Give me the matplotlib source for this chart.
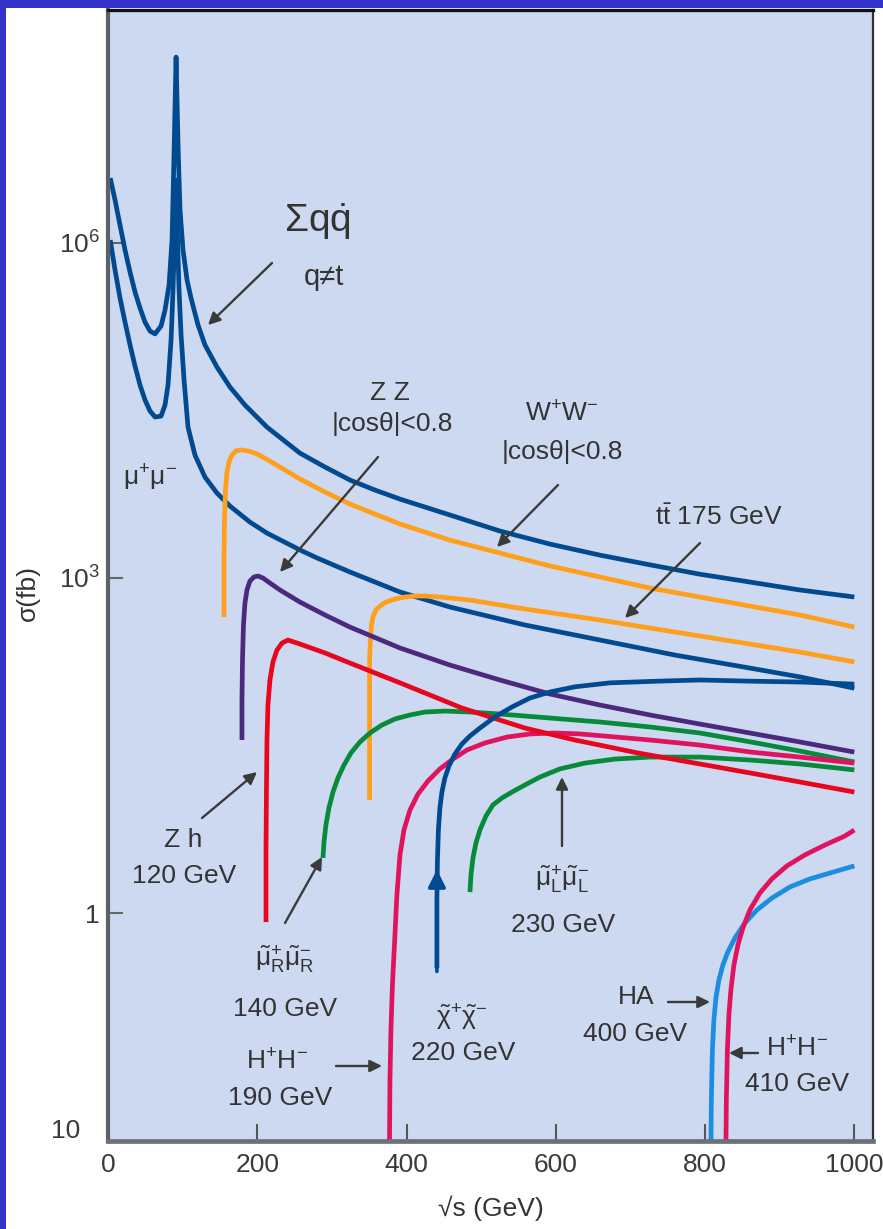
import matplotlib
matplotlib.use("Agg")
import matplotlib.pyplot as plt
from matplotlib.patches import Rectangle
from matplotlib.ticker import FixedLocator, FixedFormatter, NullLocator

# ---------------- data (sqrt(s) in GeV, cross sections in fb) ----------------
qq_x = [3, 9.4, 16.1, 22.8, 29.5, 36.2, 42.9, 49.6, 56.3, 63.0, 71.1, 76.4, 81.8,
        85.8, 88.3, 91.2, 94.0, 96.5, 100.5, 105.9, 111.2, 120.6, 129.9, 146.0,
        163.4, 183.5, 213.0, 257.2, 290.7, 324.2, 357.7, 391.2, 458.1, 525.1,
        592.1, 659.1, 726.1, 793.0, 860.0, 927.0, 1000]
qq_sigma = [3.80e6, 2.42e6, 1.44e6, 8.63e5, 5.48e5, 3.63e5, 2.61e5, 1.95e5, 1.62e5,
            1.53e5, 1.80e5, 2.50e5, 4.19e5, 1.06e6, 5.51e6, 4.6e7, 6.78e6, 1.97e6,
            8.63e5, 4.65e5, 3.21e5, 1.84e5, 1.22e5, 7.73e4, 5.12e4, 3.53e4, 2.24e4,
            1.31e4, 9.84e3, 7.52e3, 6.12e3, 5.08e3, 3.66e3, 2.63e3, 2.01e3, 1.60e3,
            1.31e3, 1.08e3, 919, 780, 675]

mumu_x = [3, 9.4, 16.1, 22.8, 29.5, 36.2, 42.9, 49.6, 56.3, 63.0, 71.1, 76.4, 80.4,
          84.5, 87.1, 89.1, 91.2, 93.2, 95.2, 97.9, 101.9, 107.2, 116.5, 129.9,
          146.0, 163.4, 190.2, 213.0, 257.2, 280.0, 324.2, 391.2, 458.1, 558.6,
          659.1, 759.5, 860.0, 927.0, 1000]
mumu_sigma = [1.06e6, 5.71e5, 3.21e5, 1.95e5, 1.22e5, 7.89e4, 5.33e4, 3.92e4, 3.12e4,
              2.76e4, 2.81e4, 3.53e4, 5.33e4, 1.35e5, 3.78e5, 1.06e6, 3.65e6, 1.06e6,
              3.78e5, 1.50e5, 5.91e4, 2.24e4, 1.26e4, 8.0e3, 5.75e3, 4.40e3, 3.16e3,
              2.52e3, 1.78e3, 1.51e3, 1.13e3, 748, 549, 379, 278, 204, 156, 130, 103]

ww_x = [155.4, 155.4, 156.1, 157.4, 159.4, 162.1, 166.1, 171.5, 178.2, 187.5, 199.6,
        217.0, 237.1, 257.2, 290.7, 324.2, 357.7, 391.2, 458.1, 525.1, 592.1, 659.1,
        726.1, 793.0, 860.0, 927.0, 1000]
ww_sigma = [447, 1.45e3, 3.30e3, 6.12e3, 8.87e3, 1.09e4, 1.26e4, 1.37e4, 1.40e4,
            1.37e4, 1.29e4, 1.11e4, 9.25e3, 7.68e3, 5.87e3, 4.59e3, 3.73e3, 3.04e3,
            2.18e3, 1.67e3, 1.28e3, 1.02e3, 812, 675, 560, 466, 363]

tt_x = [350.5, 350.5, 351.6, 353.0, 355.0, 359.0, 364.4, 372.4, 384.5, 397.9, 411.3,
        424.6, 444.7, 484.9, 558.6, 659.1, 759.5, 860.0, 927.0, 1000]
tt_sigma = [10.3, 184, 278, 379, 447, 516, 560, 608, 647, 675, 689, 689, 675, 634,
            527, 420, 328, 256, 217, 177]

zz_x = [179.5, 179.5, 180.2, 181.5, 183.5, 186.2, 190.2, 195.6, 201.0, 207.6, 217.0,
        230.4, 257.2, 290.7, 324.2, 391.2, 458.1, 525.1, 592.1, 659.1, 726.1, 793.0,
        860.0, 927.0, 1000]
zz_sigma = [35.4, 80.7, 184, 379, 596, 780, 938, 1.02e3, 1.04e3, 998, 900, 780, 608,
            466, 363, 236, 166, 122, 91.4, 72.8, 59.3, 49.2, 40.9, 34.0, 27.6]

zh_x = [211.7, 211.7, 212.3, 213.0, 214.3, 217.0, 221.0, 226.4, 233.1, 241.1, 257.2,
        290.7, 324.2, 357.7, 391.2, 431.4, 474.3, 525.1, 558.6, 625.6, 710.0, 793.0,
        861.3, 927.0, 1000]
zh_sigma = [0.830, 3.66, 12.6, 35.4, 72.8, 122, 177, 226, 261, 278, 256, 213, 173,
            141, 115, 89.5, 68.4, 53.4, 45.3, 35.4, 27.1, 21.6, 17.9, 14.9, 12.1]

smuR_x = [288.0, 289.4, 292.0, 296.0, 301.4, 308.1, 316.1, 325.5, 337.6, 351.0, 367.0,
          384.5, 404.6, 424.6, 451.4, 484.9, 525.1, 592.1, 659.1, 726.1, 793.0,
          861.3, 927.0, 1000]
smuR_sigma = [3.11, 4.32, 6.14, 8.71, 12.1, 16.2, 21.1, 27.1, 34.0, 40.9, 48.2, 54.6,
              59.3, 63.0, 64.3, 63.0, 60.5, 55.7, 51.3, 46.3, 40.9, 34.0, 28.2, 22.5]

smuL_x = [485.0, 486.3, 489.0, 493.0, 498.3, 506.4, 515.7, 527.8, 541.2, 558.6, 578.7,
          605.5, 639.0, 679.2, 726.1, 793.0, 861.3, 927.0, 1000]
smuL_sigma = [1.54, 2.19, 3.11, 4.24, 5.53, 7.39, 9.27, 10.7, 12.1, 14.0, 16.5, 19.5,
              22.0, 23.9, 24.9, 24.9, 23.4, 21.6, 19.1]

chi_x = [440.7, 440.7, 441.4, 442.7, 444.7, 447.4, 451.4, 456.8, 464.8, 474.2, 484.9,
         498.3, 518.4, 541.2, 565.3, 592.1, 625.6, 672.5, 735.4, 793.0, 861.3, 927.0,
         1000]
chi_sigma = [0.322, 1.31, 2.98, 5.53, 8.71, 12.1, 16.2, 20.7, 26.5, 32.6, 38.4, 45.3,
             56.9, 69.9, 84.1, 95.2, 106, 115, 119, 122, 119, 117, 112]

hpm190_x = [377.1, 377.8, 379.1, 381.1, 383.8, 387.1, 391.2, 396.5, 404.6, 415.3, 428.7,
            444.7, 462.2, 480.9, 505.0, 534.5, 565.3, 598.8, 632.3, 665.8, 726.1,
            793.0, 861.3, 927.0, 1000]
hpm190_sigma = [0.00755, 0.0320, 0.0897, 0.227, 0.517, 1.45, 3.31, 5.53, 8.36, 11.6,
                15.2, 19.5, 23.9, 28.8, 33.3, 37.6, 40.1, 40.9, 40.1, 38.4, 35.4, 31.9,
                27.6, 24.9, 22.0]

ha_x = [807.8, 808.4, 809.8, 811.8, 814.5, 818.5, 823.8, 830.5, 839.9, 853.3, 869.4,
        889.5, 913.6, 940.4, 967.2, 1000]
ha_sigma = [0.00755, 0.0212, 0.0593, 0.110, 0.173, 0.251, 0.342, 0.448, 0.597, 0.814,
            1.064, 1.36, 1.71, 2.02, 2.28, 2.64]

hpm410_x = [827.9, 828.5, 829.9, 831.9, 834.6, 838.6, 844.0, 850.6, 860.0, 873.4, 889.5,
            909.6, 933.7, 960.5, 987.3, 1000]
hpm410_sigma = [0.00755, 0.0212, 0.0593, 0.122, 0.205, 0.342, 0.517, 0.734, 1.064,
                1.51, 2.02, 2.64, 3.31, 4.06, 4.89, 5.53]

x_ticks = [0, 200, 400, 600, 800, 1000]
x_tick_labels = ["0", "200", "400", "600", "800", "1000"]
y_ticks = [1, 1e3, 1e6]
y_tick_labels = ["1", r"$10^{3}$", r"$10^{6}$"]

# ---------------- style ----------------
plt.rcParams['font.family'] = ['Liberation Sans', 'DejaVu Sans']
plt.rcParams['mathtext.fontset'] = 'custom'
plt.rcParams['mathtext.rm'] = 'Liberation Sans'
plt.rcParams['mathtext.it'] = 'Liberation Sans:italic'
plt.rcParams['mathtext.bf'] = 'Liberation Sans:bold'

W, H = 883, 1229
fig = plt.figure(figsize=(W / 100, H / 100), dpi=100)
fig.patch.set_facecolor('white')


def P(px, py):
    return (px / W, 1 - py / H)


ax = fig.add_axes([108 / W, 1 - 1141 / H, 765 / W, (1141 - 9.5) / H])
ax.set_facecolor('#cdd9f0')
ax.set_yscale('log')
ax.set_xlim(0, 1025)
ax.set_ylim(10 ** -2.041, 10 ** 8.089)

DBLUE = '#024a90'
ORANGE = '#ff9f1c'
PURPLE = '#4b2a7e'
RED = '#e8061f'
GREEN = '#078a3a'
PINK = '#e0135f'
LBLUE = '#1c8de0'
LW = 3.4

curves = [
    (qq_x, qq_sigma, DBLUE),
    (mumu_x, mumu_sigma, DBLUE),
    (ww_x, ww_sigma, ORANGE),
    (tt_x, tt_sigma, ORANGE),
    (zz_x, zz_sigma, PURPLE),
    (smuR_x, smuR_sigma, GREEN),
    (smuL_x, smuL_sigma, GREEN),
    (hpm190_x, hpm190_sigma, PINK),
    (zh_x, zh_sigma, RED),
    (chi_x, chi_sigma, DBLUE),
    (ha_x, ha_sigma, LBLUE),
    (hpm410_x, hpm410_sigma, PINK),
]
for xs, ys, c in curves:
    ax.plot(xs, ys, color=c, lw=LW, solid_joinstyle='round', solid_capstyle='butt')

# arrow head on the chargino threshold line
ax.annotate('', xy=(chi_x[0], 2.45), xytext=(chi_x[0], 0.3),
            arrowprops=dict(arrowstyle='-|>', color=DBLUE, lw=2.6,
                            mutation_scale=26, shrinkA=0, shrinkB=0))

# axes styling
ax.xaxis.set_major_locator(FixedLocator(x_ticks))
ax.xaxis.set_major_formatter(FixedFormatter(x_tick_labels))
ax.yaxis.set_major_locator(FixedLocator(y_ticks))
ax.yaxis.set_major_formatter(FixedFormatter(y_tick_labels))
ax.yaxis.set_minor_locator(NullLocator())
ax.xaxis.set_minor_locator(NullLocator())
ax.tick_params(axis='x', direction='in', length=12, width=1.5, colors='#555555',
               labelsize=19, labelcolor='#3a3a3a', pad=9)
ax.tick_params(axis='y', direction='in', length=11, width=1.5, colors='#666666',
               labelsize=19, labelcolor='#3a3a3a', pad=6)
ax.spines['left'].set_color('#5e6068')
ax.spines['left'].set_linewidth(3.0)
ax.spines['bottom'].set_color('#6e7078')
ax.spines['bottom'].set_linewidth(3.4)
ax.spines['top'].set_color('#111111')
ax.spines['top'].set_linewidth(2.4)
ax.spines['right'].set_color('#2e3238')
ax.spines['right'].set_linewidth(1.6)

TC = '#333333'


def T(px, py, s, size=19, **kw):
    fig.text(*P(px, py), s, ha='center', va='center', fontsize=size, color=TC, **kw)


def A(p_from, p_to):
    ax.annotate('', xy=P(*p_to), xycoords='figure fraction', xytext=P(*p_from),
                textcoords='figure fraction',
                arrowprops=dict(arrowstyle='-|>', color='#3a3a3a', lw=1.7,
                                mutation_scale=18, shrinkA=0, shrinkB=0))


# bottom y label (10^-2 with the exponent lost in the original)
fig.text(*P(80, 1131), "10", ha='right', va='center', fontsize=19, color='#3a3a3a')

# axis labels
T(491, 1208, "√s (GeV)")
T(28, 593, "σ(fb)", rotation=90)

# annotations
T(317, 222, r"$\Sigma\mathrm{q}\dot{\mathrm{q}}$", size=28)
T(324, 277, "q≠t", size=21)
A((272, 263), (208, 325))

T(150, 478, r"$\mathrm{\mu}^{+}\mathrm{\mu}^{-}$")

T(390, 393, "Z Z")
T(392, 424, "|cosθ|<0.8")
A((378, 457), (280, 572))

T(562, 414, r"$\mathrm{W}^{+}\mathrm{W}^{-}$")
T(562, 452, "|cosθ|<0.8")
A((558, 485), (497, 547))

T(719, 517, r"$\mathrm{t\bar{t}}$ 175 GeV")
A((700, 543), (625, 618))

T(183, 840, "Z h")
T(184, 876, "120 GeV")
A((202, 818), (257, 772))

T(285, 960, r"$\tilde{\mathrm{\mu}}^{+}_{\mathrm{R}}\tilde{\mathrm{\mu}}^{-}_{\mathrm{R}}$")
T(285, 1009, "140 GeV")
A((285, 923), (322, 857))

T(277, 1062, r"$\mathrm{H}^{+}\mathrm{H}^{-}$")
T(280, 1098, "190 GeV")
A((336, 1066), (382, 1066))

T(462, 1018, r"$\tilde{\mathrm{\chi}}^{+}\tilde{\mathrm{\chi}}^{-}$")
T(463, 1053, "220 GeV")

T(562, 880, r"$\tilde{\mathrm{\mu}}^{+}_{\mathrm{L}}\tilde{\mathrm{\mu}}^{-}_{\mathrm{L}}$")
T(563, 925, "230 GeV")
A((562, 846), (562, 777))

T(636, 997, "HA")
T(635, 1034, "400 GeV")
A((668, 1002), (710, 1002))

T(797, 1049, r"$\mathrm{H}^{+}\mathrm{H}^{-}$")
T(797, 1084, "410 GeV")
A((758, 1053), (729, 1053))

# blue frame (top and left)
fig.add_artist(Rectangle((0, 1 - 8 / H), 1, 8 / H, transform=fig.transFigure,
                         facecolor='#3333cc', edgecolor='none', zorder=10))
fig.add_artist(Rectangle((0, 0), 6 / W, 1, transform=fig.transFigure,
                         facecolor='#3333cc', edgecolor='none', zorder=10))

fig.savefig('out.png', dpi=100, facecolor='white')
